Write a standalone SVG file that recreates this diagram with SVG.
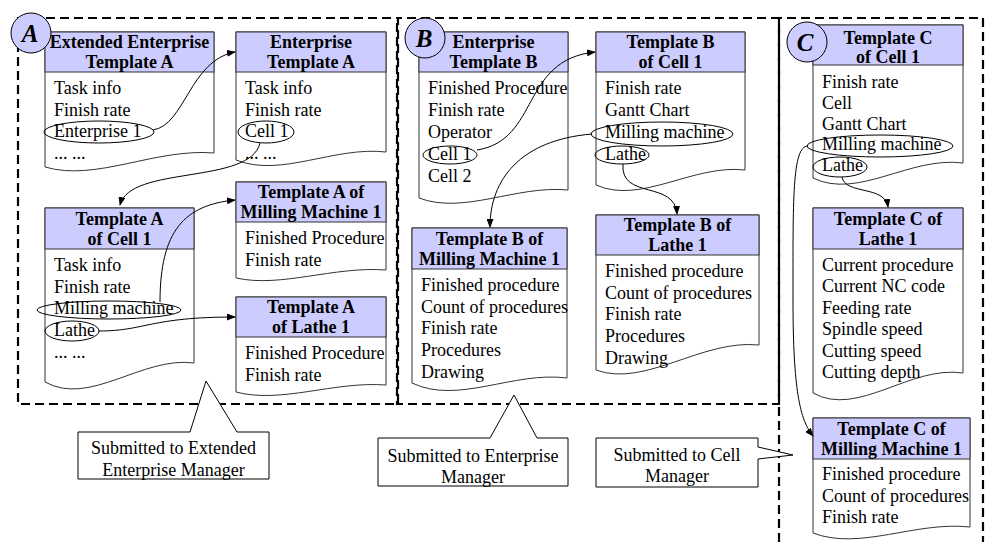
<svg xmlns="http://www.w3.org/2000/svg" width="985" height="542" viewBox="0 0 985 542">
<style>
.frame{fill:none;stroke:#000;stroke-width:2.2;stroke-dasharray:9 5}
.body{fill:#fff;stroke:#333;stroke-width:1}
.head{fill:#ccccff;stroke:#333;stroke-width:1}
.ht{font-family:"Liberation Serif","Times New Roman",serif;font-size:18px;font-weight:bold;text-anchor:middle;fill:#000}
.bt{font-family:"Liberation Serif","Times New Roman",serif;font-size:18px;fill:#000}
.ell{fill:none;stroke:#000;stroke-width:1}
.conn{fill:none;stroke:#000;stroke-width:1;marker-end:url(#arr)}
.badge{fill:#ccccff;stroke:#000;stroke-width:1}
.bl{font-family:"Liberation Serif","Times New Roman",serif;font-size:25px;font-weight:bold;font-style:italic;text-anchor:middle;fill:#000}
.call{fill:#fff;stroke:#000;stroke-width:1}
.ct{font-family:"Liberation Serif","Times New Roman",serif;font-size:18px;text-anchor:middle;fill:#000}
</style>
<defs>
<marker id="arr" markerWidth="9" markerHeight="7" refX="8" refY="3.5" orient="auto" markerUnits="userSpaceOnUse">
<path d="M0,0 L9,3.5 L0,7 z" fill="#000"/>
</marker>
</defs>
<rect width="985" height="542" fill="#fff"/>
<g id="frames">
<rect class="frame" x="18" y="18" width="380" height="386"/>
<rect class="frame" x="397" y="18" width="382" height="386" stroke-dashoffset="4"/>
<path class="frame" d="M779,542 V18 H983 V542"/>
</g>

<g id="A1">
<path class="body" d="M45,32 H214 V153 C155,148 96,182 45,167 Z"/>
<rect class="head" x="45" y="32" width="169" height="40"/>
<text class="ht" x="129.5" y="48">Extended Enterprise</text>
<text class="ht" x="129.5" y="68">Template A</text>
<text class="bt" x="54" y="94">Task info</text>
<text class="bt" x="54" y="115.7">Finish rate</text>
<text class="bt" x="54" y="137.4">Enterprise 1</text>
<text class="bt" x="54" y="159">... ...</text>
<ellipse class="ell" cx="99" cy="132" rx="55" ry="11"/>
</g>

<g id="A2">
<path class="body" d="M236,32 H386 V152 C334,146 281,178 236,160 Z"/>
<rect class="head" x="236" y="32" width="150" height="40"/>
<text class="ht" x="311" y="48">Enterprise</text>
<text class="ht" x="311" y="68">Template A</text>
<text class="bt" x="245" y="94">Task info</text>
<text class="bt" x="245" y="115.7">Finish rate</text>
<text class="bt" x="245" y="137.4">Cell 1</text>
<text class="bt" x="245" y="159">... ...</text>
<ellipse class="ell" cx="266" cy="132" rx="28" ry="11"/>
</g>

<g id="A3">
<path class="body" d="M45,208 H194 V363 C142,356 90,407 45,382 Z"/>
<rect class="head" x="45" y="208" width="149" height="41"/>
<text class="ht" x="119.5" y="225">Template A</text>
<text class="ht" x="119.5" y="245">of Cell 1</text>
<text class="bt" x="54" y="271">Task info</text>
<text class="bt" x="54" y="292.7">Finish rate</text>
<text class="bt" x="54" y="314.4">Milling machine</text>
<text class="bt" x="54" y="336">Lathe</text>
<text class="bt" x="54" y="357.8">... ...</text>
<ellipse class="ell" cx="109" cy="310" rx="72" ry="9"/>
<ellipse class="ell" cx="72" cy="331" rx="27" ry="10"/>
</g>

<g id="A4">
<path class="body" d="M236,182 H386 V270 C334,266 281,288 236,278 Z"/>
<rect class="head" x="236" y="182" width="150" height="40"/>
<text class="ht" x="311" y="198">Template A of</text>
<text class="ht" x="311" y="218">Milling Machine 1</text>
<text class="bt" x="245" y="244">Finished Procedure</text>
<text class="bt" x="245" y="265.7">Finish rate</text>
</g>

<g id="A5">
<path class="body" d="M236,297 H386 V385 C334,381 281,404 236,392 Z"/>
<rect class="head" x="236" y="297" width="150" height="40"/>
<text class="ht" x="311" y="313">Template A</text>
<text class="ht" x="311" y="333">of Lathe 1</text>
<text class="bt" x="245" y="359">Finished Procedure</text>
<text class="bt" x="245" y="380.7">Finish rate</text>
</g>

<g id="B1">
<path class="body" d="M419,32 H568 V190 C516,185 464,215 419,198 Z"/>
<rect class="head" x="419" y="32" width="149" height="40"/>
<text class="ht" x="493.5" y="48">Enterprise</text>
<text class="ht" x="493.5" y="68">Template B</text>
<text class="bt" x="428" y="94">Finished Procedure</text>
<text class="bt" x="428" y="116">Finish rate</text>
<text class="bt" x="428" y="138">Operator</text>
<text class="bt" x="428" y="160">Cell 1</text>
<text class="bt" x="428" y="182">Cell 2</text>
<ellipse class="ell" cx="450" cy="155" rx="27" ry="9"/>
</g>

<g id="B2">
<path class="body" d="M596,32 H745 V170 C693,164 641,205 596,185 Z"/>
<rect class="head" x="596" y="32" width="149" height="40"/>
<text class="ht" x="670.5" y="48">Template B</text>
<text class="ht" x="670.5" y="68">of Cell 1</text>
<text class="bt" x="605" y="94">Finish rate</text>
<text class="bt" x="605" y="116">Gantt Chart</text>
<text class="bt" x="605" y="138">Milling machine</text>
<text class="bt" x="605" y="160">Lathe</text>
<ellipse class="ell" cx="662" cy="134" rx="71" ry="12"/>
<ellipse class="ell" cx="622" cy="155" rx="27" ry="9"/>
</g>

<g id="B3">
<path class="body" d="M412,228 H567 V378 C513,371 458,405 412,383 Z"/>
<rect class="head" x="412" y="228" width="155" height="41"/>
<text class="ht" x="489.5" y="245">Template B of</text>
<text class="ht" x="489.5" y="265">Milling Machine 1</text>
<text class="bt" x="421" y="291">Finished procedure</text>
<text class="bt" x="421" y="312.7">Count of procedures</text>
<text class="bt" x="421" y="334.4">Finish rate</text>
<text class="bt" x="421" y="356">Procedures</text>
<text class="bt" x="421" y="377.8">Drawing</text>
</g>

<g id="B4">
<path class="body" d="M596,215 H759 V345 C702,339 645,388 596,370 Z"/>
<rect class="head" x="596" y="215" width="163" height="40"/>
<text class="ht" x="677.5" y="231">Template B of</text>
<text class="ht" x="677.5" y="251">Lathe 1</text>
<text class="bt" x="605" y="277">Finished procedure</text>
<text class="bt" x="605" y="298.7">Count of procedures</text>
<text class="bt" x="605" y="320.4">Finish rate</text>
<text class="bt" x="605" y="342">Procedures</text>
<text class="bt" x="605" y="363.8">Drawing</text>
</g>

<g id="C1">
<path class="body" d="M813,25 H963 V163 C910,156 858,200 813,178 Z"/>
<rect class="head" x="813" y="25" width="150" height="40"/>
<text class="ht" x="888" y="44">Template C</text>
<text class="ht" x="888" y="63">of Cell 1</text>
<text class="bt" x="822" y="88">Finish rate</text>
<text class="bt" x="822" y="108.8">Cell</text>
<text class="bt" x="822" y="129.6">Gantt Chart</text>
<text class="bt" x="822" y="150.4">Milling machine</text>
<text class="bt" x="822" y="171.2">Lathe</text>
<ellipse class="ell" cx="880" cy="146" rx="73" ry="11"/>
<ellipse class="ell" cx="840" cy="167" rx="27" ry="10"/>
</g>

<g id="C2">
<path class="body" d="M813,208 H963 V373 C910,365 858,418 813,393 Z"/>
<rect class="head" x="813" y="208" width="150" height="41"/>
<text class="ht" x="888" y="225">Template C of</text>
<text class="ht" x="888" y="245">Lathe 1</text>
<text class="bt" x="822" y="271">Current procedure</text>
<text class="bt" x="822" y="292.4">Current NC code</text>
<text class="bt" x="822" y="313.8">Feeding rate</text>
<text class="bt" x="822" y="335.2">Spindle speed</text>
<text class="bt" x="822" y="356.6">Cutting speed</text>
<text class="bt" x="822" y="378">Cutting depth</text>
</g>

<g id="C3">
<path class="body" d="M813,418 H970 V527 C915,521 860,551 813,533 Z"/>
<rect class="head" x="813" y="418" width="157" height="41"/>
<text class="ht" x="891.5" y="435">Template C of</text>
<text class="ht" x="891.5" y="455">Milling Machine 1</text>
<text class="bt" x="822" y="480">Finished procedure</text>
<text class="bt" x="822" y="501.5">Count of procedures</text>
<text class="bt" x="822" y="523">Finish rate</text>
</g>

<g id="badges">
<circle class="badge" cx="31" cy="33" r="20"/>
<text class="bl" x="30" y="42">A</text>
<circle class="badge" cx="425" cy="38" r="20"/>
<text class="bl" x="424" y="47">B</text>
<circle class="badge" cx="807" cy="42" r="20"/>
<text class="bl" x="805" y="51">C</text>
</g>

<g id="connectors">
<path class="conn" d="M153,130 C185,125 190,60 235,52"/>
<path class="conn" d="M260,143 C250,185 130,165 120,205"/>
<path class="conn" d="M160,302 C160,230 185,205 235,200"/>
<path class="conn" d="M99,331 C145,331 150,317 235,317"/>
<path class="conn" d="M477,150 C540,140 520,60 595,52"/>
<path class="conn" d="M592,134 C520,140 490,180 490,227"/>
<path class="conn" d="M623,164 C620,200 675,180 677,214"/>
<path class="conn" d="M842,177 C845,195 885,185 888,207"/>
<path class="conn" d="M808,146 C792,146 793,200 793,300 C793,390 800,420 813,436"/>
</g>

<g id="callout1">
<path class="call" d="M78,432 H190 L206,381 L237,432 H269 V479 H78 Z"/>
<text class="ct" x="173.5" y="454">Submitted to Extended</text>
<text class="ct" x="173.5" y="476">Enterprise Manager</text>
</g>
<g id="callout2">
<path class="call" d="M378,438 H490 L514,395 L537,438 H568 V486 H378 Z"/>
<text class="ct" x="473" y="462">Submitted to Enterprise</text>
<text class="ct" x="473" y="483">Manager</text>
</g>
<g id="callout3">
<path class="call" d="M596,438 H758 V447 L793,455 L758,459 V487 H596 Z"/>
<text class="ct" x="677" y="461">Submitted to Cell</text>
<text class="ct" x="677" y="482">Manager</text>
</g>
</svg>
